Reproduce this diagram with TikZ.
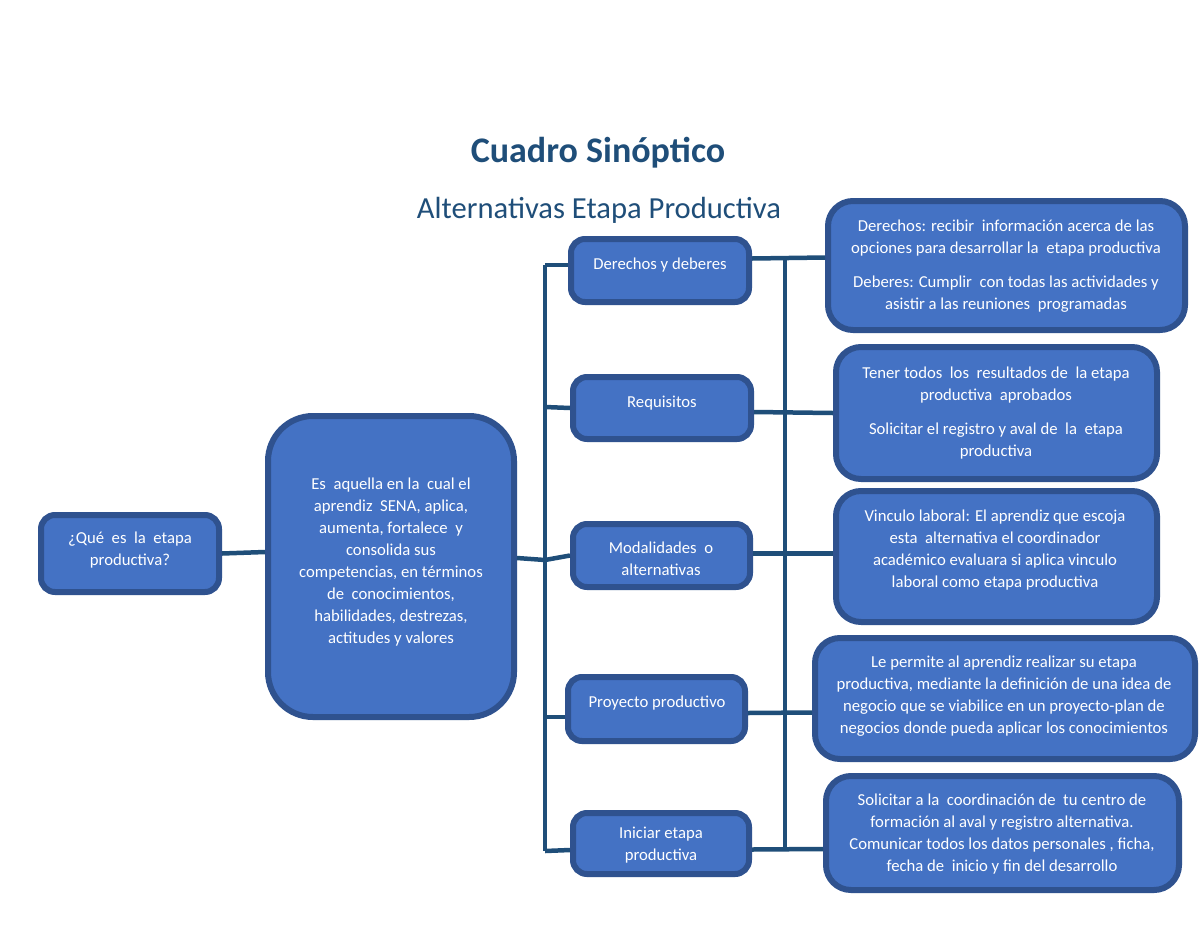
\documentclass[tikz,border=0pt]{standalone}
\usepackage{fontspec}
\setmainfont{Carlito}
\usetikzlibrary{calc}
\definecolor{boxfill}{HTML}{4472C4}
\definecolor{boxline}{HTML}{2F528F}
\definecolor{conncol}{HTML}{1F4E79}
\definecolor{titlecol}{HTML}{1F4E79}
\begin{document}
\begin{tikzpicture}[x=1pt,y=-1pt,
  box/.style={draw=boxline, line width=6pt, fill=boxfill, rounded corners=14pt, inner sep=0pt},
  bigbox/.style={box, rounded corners=25pt},
  txt/.style={text=white, align=center, inner sep=0pt, font=\fontsize{16.7}{22}\selectfont},
  conn/.style={draw=conncol, line width=4.5pt}]
\useasboundingbox (0,0) rectangle (1200,927);
\fill[white] (0,0) rectangle (1200,927);

% titles
\node[anchor=base, text=titlecol, font=\fontsize{36}{42}\selectfont\bfseries, inner sep=0pt] (title) at (598,162) {Cuadro Sinóptico};
\node[anchor=base, text=titlecol, font=\fontsize{30.6}{36}\selectfont, inner sep=0pt] (subtitle) at (599,218) {Alternativas Etapa Productiva};

% boxes
\node[box, minimum width=178pt, minimum height=77pt] (q) at (130,553.5) {};
\node[box, rounded corners=45pt, minimum width=246pt, minimum height=301pt] (c) at (391,566.5) {};
\node[box, minimum width=178pt, minimum height=63pt] (d1) at (660,270.5) {};
\node[box, minimum width=178pt, minimum height=62pt] (d2) at (662,408) {};
\node[box, minimum width=177pt, minimum height=63pt] (d3) at (661.5,555.5) {};
\node[box, minimum width=177pt, minimum height=64pt] (d4) at (656.5,709) {};
\node[box, minimum width=176pt, minimum height=61pt] (d5) at (661,843.5) {};
\node[bigbox, minimum width=357pt, minimum height=129pt] (r1) at (1006.5,265.5) {};
\node[bigbox, minimum width=321pt, minimum height=132pt] (r2) at (996.5,413) {};
\node[bigbox, minimum width=321pt, minimum height=131pt] (r3) at (996.5,556.5) {};
\node[bigbox, minimum width=380pt, minimum height=121pt] (r4) at (1005,698.5) {};
\node[bigbox, minimum width=353pt, minimum height=114pt] (r5) at (1002.5,833) {};

% texts
\node[txt] (qt) at (130,550) {¿Qué~ es~ la~ etapa\\productiva?};
\node[txt] (ct) at (391,562) {Es~ aquella en la~ cual el\\aprendiz~ SENA, aplica,\\aumenta, fortalece~ y\\consolida sus\\competencias, en términos\\de~ conocimientos,\\habilidades, destrezas,\\actitudes y valores};
\node[txt] (d1t) at (660,265) {Derechos y deberes};
\node[txt] (d2t) at (662,403) {Requisitos};
\node[txt] (d3t) at (661,559) {Modalidades~ o\\alternativas};
\node[txt] (d4t) at (657,703) {Proyecto productivo};
\node[txt] (d5t) at (661,845) {Iniciar etapa\\productiva};
\node[txt] (r1t) at (1006,266) {Derechos: recibir~ información acerca de las\\opciones para desarrollar la~ etapa productiva\\[12pt]Deberes: Cumplir~ con todas las actividades y\\asistir a las reuniones~ programadas};
\node[txt] (r2t) at (996,413) {Tener todos~ los~ resultados de~ la etapa\\productiva~ aprobados\\[12pt]Solicitar el registro y aval de~ la~ etapa\\productiva};
\node[txt] (r3t) at (995,550) {Vinculo laboral: El aprendiz que escoja\\esta~ alternativa el coordinador\\académico evaluara si aplica vinculo\\laboral como etapa productiva};
\node[txt] (r4t) at (1004,696) {Le permite al aprendiz realizar su etapa\\productiva, mediante la definición de una idea de\\negocio que se viabilice en un proyecto-plan de\\negocios donde pueda aplicar los conocimientos};
\node[txt] (r5t) at (1002,834) {Solicitar a la~ coordinación de~ tu centro de\\formación al aval y registro alternativa.\\Comunicar todos los datos personales , ficha,\\fecha de~ inicio y fin del desarrollo};

% bracket coordinates
\coordinate (b1) at (545,265);
\coordinate (b2) at (545,407);
\coordinate (b3) at (545,560);
\coordinate (b4) at (545,717);
\coordinate (b5) at (545,851);
\coordinate (rt) at (785,258);
\coordinate (rb) at (785,850);

% connectors
\draw[conn] (q.east) -- ([yshift=14.5pt]c.west);
\draw[conn] ([yshift=8.5pt]c.east) -- (b3) -- (d3.west);
\draw[conn] (b1) -- (b5);
\draw[conn] ([yshift=5.5pt]d1.west) -- (b1);
\draw[conn] (d2.west) -- (b2);
\draw[conn] ([yshift=-8pt]d4.west) -- (b4);
\draw[conn] ([yshift=-6.5pt]d5.west) -- (b5);
\draw[conn] (rt) -- (rb);
\draw[conn] ([yshift=12pt]d1.east) -- ([yshift=8pt]r1.west);
\draw[conn] ([yshift=-4pt]d2.east) -- (r2.west);
\draw[conn] ([yshift=2pt]d3.east) -- ([yshift=3pt]r3.west);
\draw[conn] ([yshift=-4pt]d4.east) -- ([yshift=-14pt]r4.west);
\draw[conn] ([yshift=-6pt]d5.east) -- ([yshift=-16pt]r5.west);
\end{tikzpicture}
\end{document}
